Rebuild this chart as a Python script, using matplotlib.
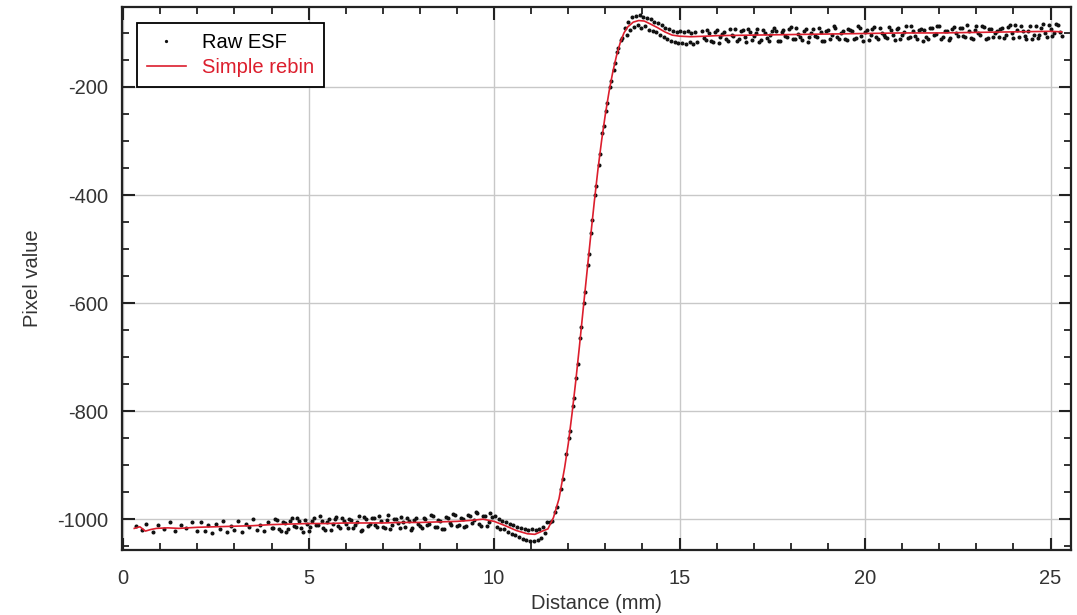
import numpy as np
import matplotlib
matplotlib.use('Agg')
import matplotlib.pyplot as plt
from matplotlib.ticker import MultipleLocator

plt.rcParams['font.family'] = ['Liberation Sans', 'DejaVu Sans']
plt.rcParams['axes.unicode_minus'] = False

ROUGE = '#dc1e2d'

# Courbe "Simple rebin"
rebin_x = [0.3, 0.45, 0.6, 0.75, 0.9, 1.2, 1.5, 2.0, 2.5, 3.0, 3.5, 4.0, 4.5, 5.0, 5.5,
           6.0, 6.5, 7.0, 7.5, 8.0, 8.5, 9.0, 9.4, 9.7, 10.0, 10.3, 10.6, 10.9, 11.1, 11.3,
           11.45, 11.6, 11.75, 11.9, 12.0, 12.1, 12.2, 12.3, 12.4, 12.5, 12.6, 12.7, 12.8,
           12.9, 13.0, 13.1, 13.2, 13.3, 13.4, 13.5, 13.6, 13.75, 13.9, 14.05, 14.2, 14.4,
           14.6, 14.8, 15.0, 15.3, 15.7, 16.0, 17.0, 18.0, 19.0, 20.0, 21.0, 22.0, 23.0,
           24.0, 25.0, 25.3]
rebin_y = [-1017, -1014, -1022, -1019, -1017, -1016, -1017, -1015, -1014, -1013, -1012,
           -1010, -1009, -1008, -1008, -1007, -1007, -1007, -1006, -1006, -1005, -1004,
           -1002, -1000, -1004, -1012, -1021, -1027, -1028, -1022, -1018, -997, -962, -905,
           -860, -805, -745, -680, -612, -545, -478, -413, -352, -298, -250, -208, -172,
           -142, -118, -100, -89, -80, -77, -78, -83, -90, -98, -104, -106, -107, -106,
           -105, -104, -103, -102, -101, -100, -100, -99, -98, -97, -98]

# Points bruts "Raw ESF" (estimés à l'oeil, par zone)
raw_x_debut = [0.35, 0.5, 0.62, 0.8, 0.95, 1.1, 1.25, 1.4, 1.55, 1.7, 1.85, 2.0,
               2.1, 2.2, 2.3, 2.4, 2.5, 2.6, 2.7, 2.8, 2.9, 3.0,
               3.1, 3.2, 3.3, 3.4, 3.5, 3.6, 3.7, 3.8, 3.9, 4.0]
raw_y_debut = [-1012, -1020, -1009, -1024, -1011, -1019, -1006, -1021, -1010, -1017, -1005, -1022,
               -1005, -1021, -1011, -1026, -1008, -1018, -1003, -1023, -1013, -1020,
               -1004, -1023, -1008, -1015, -1000, -1020, -1010, -1022, -1005, -1017]

raw_x_plat = [4.1, 4.2, 4.3, 4.4, 4.5, 4.6, 4.7, 4.8, 4.9, 5.0,
              5.1, 5.2, 5.3, 5.4, 5.5, 5.6, 5.7, 5.8, 5.9, 6.0,
              4.05, 4.15, 4.25, 4.35, 4.45, 4.55, 4.65, 4.75, 4.85, 4.95,
              5.05, 5.15, 5.25, 5.35, 5.45, 5.55, 5.65, 5.75, 5.85, 5.95,
              6.1, 6.2, 6.3, 6.4, 6.5, 6.6, 6.7, 6.8, 6.9, 7.0,
              7.1, 7.2, 7.3, 7.4, 7.5, 7.6, 7.7, 7.8, 7.9, 8.0,
              6.05, 6.15, 6.25, 6.35, 6.45, 6.55, 6.65, 6.75, 6.85, 6.95,
              7.05, 7.15, 7.25, 7.35, 7.45, 7.55, 7.65, 7.75, 7.85, 7.95,
              8.1, 8.2, 8.3, 8.4, 8.5, 8.6, 8.7, 8.8, 8.9, 9.0,
              9.1, 9.2, 9.3, 9.4, 9.5, 9.6, 9.7, 9.8, 9.9,
              8.05, 8.15, 8.25, 8.35, 8.45, 8.55, 8.65, 8.75, 8.85, 8.95,
              9.05, 9.15, 9.25, 9.35, 9.45, 9.55, 9.65, 9.75, 9.85, 9.95]
raw_y_plat = [-1000, -1018, -1005, -1023, -1003, -1012, -998, -1016, -1001, -1021,
              -1004, -1011, -994, -1017, -1006, -1020, -1000, -1013, -997, -1009,
              -1016, -1002, -1021, -1007, -1019, -997, -1014, -1004, -1024, -1008,
              -1015, -998, -1011, -1003, -1020, -999, -1009, -996, -1016, -1004,
              -1000, -1017, -1005, -1021, -996, -1012, -998, -1010, -994, -1015,
              -1002, -1018, -1000, -1007, -996, -1015, -1003, -1017, -998, -1012,
              -1016, -1002, -1011, -995, -1020, -999, -1009, -997, -1014, -1004,
              -1017, -992, -1011, -999, -1016, -1005, -997, -1020, -1002, -1009,
              -997, -1011, -993, -1015, -1002, -1018, -996, -1007, -991, -1012,
              -998, -1014, -993, -1007, -987, -1008, -994, -1012, -989,
              -1017, -999, -1008, -994, -1014, -1003, -1019, -998, -1010, -992,
              -1011, -999, -1013, -994, -1001, -988, -1013, -995, -1006, -996]

raw_x_creux = [10.02, 10.07, 10.12, 10.17, 10.22, 10.27, 10.32, 10.37, 10.42, 10.47,
               10.52, 10.57, 10.62, 10.67, 10.72, 10.77, 10.82, 10.87, 10.92, 10.97,
               11.02, 11.07, 11.12, 11.17, 11.22, 11.27, 11.32, 11.37, 11.42]
raw_y_creux = [-995, -1014, -1000, -1018, -1003, -1019, -1006, -1024, -1009, -1027,
               -1011, -1030, -1014, -1033, -1016, -1036, -1018, -1038, -1020, -1040,
               -1019, -1041, -1020, -1039, -1018, -1034, -1014, -1025, -1006]

raw_x_front = [11.5, 11.55, 11.65, 11.7, 11.8, 11.85, 11.95, 12.05, 12.15, 12.25, 12.35,
               12.45, 12.55, 12.65, 12.75, 12.85, 12.95, 13.05, 13.15, 13.25, 13.35, 13.45,
               12.02, 12.12, 12.22, 12.32, 12.42, 12.52, 12.62, 12.72, 12.82, 12.92,
               13.02, 13.12, 13.22, 13.32, 13.42]
raw_y_front = [-1006, -1003, -986, -978, -945, -926, -880, -836, -776, -713, -645,
               -580, -510, -446, -383, -324, -272, -230, -189, -156, -128, -110,
               -850, -790, -738, -664, -600, -530, -470, -400, -345, -285,
               -244, -200, -168, -136, -113]

raw_x_pic = [13.52, 13.57, 13.62, 13.67, 13.72, 13.77, 13.82, 13.87, 13.92, 13.97,
             14.02, 14.07, 14.12, 14.17, 14.22, 14.27, 14.32, 14.37, 14.42, 14.47,
             14.52, 14.57, 14.62, 14.67, 14.72, 14.77, 14.82, 14.87, 14.92, 14.97,
             15.02, 15.07, 15.12, 15.17, 15.22, 15.27, 15.32, 15.37, 15.42, 15.47]
raw_y_pic = [-90, -104, -80, -95, -70, -89, -68, -86, -66, -90,
             -70, -87, -72, -94, -74, -96, -79, -99, -81, -103,
             -86, -107, -90, -112, -93, -114, -96, -117, -98, -119,
             -97, -118, -99, -121, -96, -117, -100, -120, -98, -116]

raw_x_haut = [15.6, 15.7, 15.8, 15.9, 16.0, 16.1, 16.2, 16.3, 16.4, 16.5,
              16.6, 16.7, 16.8, 16.9, 17.0, 17.1, 17.2, 17.3, 17.4, 17.5,
              17.6, 17.7, 17.8, 17.9, 18.0, 18.1, 18.2, 18.3, 18.4, 18.5,
              18.6, 18.7, 18.8, 18.9, 19.0, 19.1, 19.2, 19.3, 19.4, 19.5,
              19.6, 19.7, 19.8, 19.9, 20.0, 20.1, 20.2, 20.3, 20.4, 20.5,
              20.6, 20.7, 20.8, 20.9, 21.0, 21.1, 21.2, 21.3, 21.4, 21.5,
              21.6, 21.7, 21.8, 21.9, 22.0, 22.1, 22.2, 22.3, 22.4, 22.5,
              22.6, 22.7, 22.8, 22.9, 23.0, 23.1, 23.2, 23.3, 23.4, 23.5,
              23.6, 23.7, 23.8, 23.9, 24.0, 24.1, 24.2, 24.3, 24.4, 24.5,
              24.6, 24.7, 24.8, 24.9, 25.0, 25.1, 25.2, 25.3,
              15.65, 15.75, 15.85, 15.95, 16.05, 16.15, 16.25, 16.35, 16.45, 16.55,
              16.65, 16.75, 16.85, 16.95, 17.05, 17.15, 17.25, 17.35, 17.45, 17.55,
              17.65, 17.75, 17.85, 17.95, 18.05, 18.15, 18.25, 18.35, 18.45, 18.55,
              18.65, 18.75, 18.85, 18.95, 19.05, 19.15, 19.25, 19.35, 19.45, 19.55,
              19.65, 19.75, 19.85, 19.95, 20.05, 20.15, 20.25, 20.35, 20.45, 20.55,
              20.65, 20.75, 20.85, 20.95, 21.05, 21.15, 21.25, 21.35, 21.45, 21.55,
              21.65, 21.75, 21.85, 21.95, 22.05, 22.15, 22.25, 22.35, 22.45, 22.55,
              22.65, 22.75, 22.85, 22.95, 23.05, 23.15, 23.25, 23.35, 23.45, 23.55,
              23.65, 23.75, 23.85, 23.95, 24.05, 24.15, 24.25, 24.35, 24.45, 24.55,
              24.65, 24.75, 24.85, 24.95, 25.05, 25.15, 25.25]
raw_y_haut = [-96, -113, -101, -117, -94, -108, -98, -115, -103, -92,
              -111, -94, -117, -99, -106, -92, -113, -101, -115, -96,
              -97, -115, -94, -107, -89, -111, -102, -113, -92, -108,
              -92, -108, -99, -115, -94, -103, -90, -111, -97, -113,
              -94, -111, -88, -105, -99, -113, -92, -108, -90, -103,
              -109, -94, -113, -90, -103, -88, -108, -96, -111, -92,
              -95, -112, -91, -102, -87, -107, -97, -110, -89, -105,
              -91, -108, -97, -112, -87, -103, -89, -110, -93, -100,
              -108, -91, -103, -85, -110, -94, -87, -106, -96, -112,
              -88, -104, -83, -108, -92, -100, -85, -106,
              -109, -94, -115, -99, -119, -102, -112, -93, -106, -114,
              -96, -107, -92, -113, -100, -117, -94, -110, -103, -91,
              -114, -98, -105, -93, -111, -90, -108, -96, -116, -100,
              -106, -91, -114, -96, -111, -88, -108, -100, -112, -93,
              -97, -109, -90, -114, -95, -104, -89, -111, -100, -107,
              -89, -104, -93, -112, -98, -109, -87, -106, -95, -114,
              -108, -90, -103, -88, -111, -96, -113, -93, -101, -91,
              -105, -86, -109, -95, -101, -88, -111, -92, -107, -96,
              -92, -109, -89, -101, -86, -107, -97, -111, -88, -104,
              -109, -91, -101, -86, -106, -84, -99]

raw_x = raw_x_debut + raw_x_plat + raw_x_creux + raw_x_front + raw_x_pic + raw_x_haut
raw_y = raw_y_debut + raw_y_plat + raw_y_creux + raw_y_front + raw_y_pic + raw_y_haut

fig = plt.figure(figsize=(10.77, 6.15), dpi=100)
ax = fig.add_axes([0.1133, 0.1057, 0.8811, 0.8829])

ax.plot(raw_x, raw_y, linestyle='none', marker='.', markersize=3.8, color='#111111',
        label='Raw ESF', zorder=2)
ax.plot(rebin_x, rebin_y, color=ROUGE, linewidth=1.2, label='Simple rebin', zorder=3)

ax.set_xlim(-0.03, 25.55)
ax.set_ylim(-1057, -52)

ax.xaxis.set_major_locator(MultipleLocator(5))
ax.xaxis.set_minor_locator(MultipleLocator(1))
ax.yaxis.set_major_locator(MultipleLocator(200))
ax.yaxis.set_minor_locator(MultipleLocator(50))

ax.grid(True, which='major', color='#c8c8c8', linewidth=1.0, zorder=0)
ax.set_axisbelow(True)

for s in ax.spines.values():
    s.set_linewidth(1.6)
    s.set_color('#222222')

ax.tick_params(which='both', direction='in', top=True, right=True, colors='#222222',
               labelsize=14.5, labelcolor='#333333')
ax.tick_params(which='major', length=9, width=1.5)
ax.tick_params(which='minor', length=5, width=1.3)
ax.tick_params(axis='x', which='major', pad=14)
ax.tick_params(axis='y', which='major', pad=10)

ax.set_xlabel('Distance (mm)', fontsize=14.5, color='#333333', labelpad=4)
ax.set_ylabel('Pixel value', fontsize=14.5, color='#333333', labelpad=11)

leg = ax.legend(loc='upper left', bbox_to_anchor=(0.016, 0.971), borderaxespad=0,
                fancybox=False, framealpha=1, edgecolor='black', fontsize=14.5,
                handlelength=1.9, markerscale=0.7, borderpad=0.5, labelspacing=0.3)
leg.get_frame().set_linewidth(1.3)
leg.get_texts()[1].set_color(ROUGE)

fig.savefig('out.png', dpi=100)
